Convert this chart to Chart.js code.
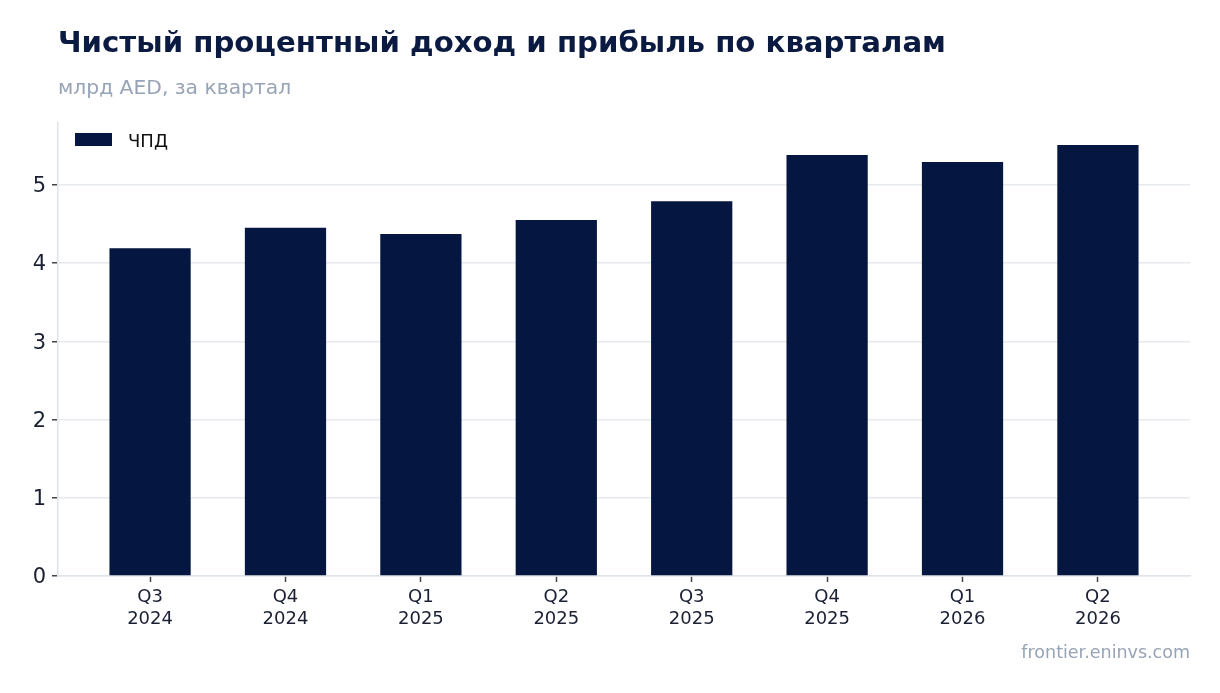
<!DOCTYPE html>
<html>
<head>
<meta charset="utf-8">
<script src="https://cdn.jsdelivr.net/npm/chart.js@4"></script>
<style>
  body { margin: 0; background: #fff; font-family: "DejaVu Sans", sans-serif; }
  #wrap { position: relative; width: 1220px; height: 693px; overflow: hidden; }
  #title { position: absolute; left: 58px; top: 25px; font-size: 29.2px; font-weight: bold; color: #0b1a40; white-space: nowrap; }
  #subtitle { position: absolute; left: 58px; top: 75px; font-size: 20.3px; color: #97a3b6; white-space: nowrap; }
  #source { position: absolute; right: 30px; top: 642px; font-size: 17.5px; color: #97a3b6; }
  #legend { position: absolute; left: 75px; top: 128px; font-size: 18px; color: #111; white-space: nowrap; }
  #legend span.sw { display: inline-block; width: 37px; height: 13px; background: #051641; vertical-align: middle; margin-right: 16px; position: relative; top: -1px; }
  #legend span { vertical-align: middle; }
  #box { position: absolute; left: 0; top: 0; width: 1220px; height: 693px; }
</style>
</head>
<body>
<div id="wrap">
  <div id="box"><canvas id="chart"></canvas></div>
  <div id="title">Чистый процентный доход и прибыль по кварталам</div>
  <div id="subtitle">млрд AED, за квартал</div>
  <div id="legend"><span class="sw"></span><span id="legendText"></span></div>
  <div id="source">frontier.eninvs.com</div>
</div>
<script>
// данные
const quarters = [["Q3", "2024"], ["Q4", "2024"], ["Q1", "2025"], ["Q2", "2025"],
                  ["Q3", "2025"], ["Q4", "2025"], ["Q1", "2026"], ["Q2", "2026"]];
const nii = [4.19, 4.45, 4.37, 4.55, 4.79, 5.38, 5.29, 5.51];
const seriesName = "ЧПД";
const yTicks = [0, 1, 2, 3, 4, 5];

document.getElementById('legendText').textContent = seriesName;

const ctx = document.getElementById('chart').getContext('2d');
new Chart(ctx, {
    type: 'bar',
    data: {
        datasets: [{
            label: seriesName,
            data: nii.map((v, i) => ({ x: i, y: v })),
            backgroundColor: '#051641',
            borderWidth: 0,
            barPercentage: 0.6,
            categoryPercentage: 1.0
        }]
    },
    options: {
        responsive: true,
        maintainAspectRatio: false,
        animation: false,
        layout: { padding: { top: 123, right: 30, bottom: 57, left: 0 } },
        plugins: {
            tooltip: { enabled: false },
            legend: { display: false }
        },
        scales: {
            x: {
                type: 'linear',
                offset: false,
                min: -0.68,
                max: quarters.length - 1 + 0.68,
                afterFit: function(scale) { scale.height = 60; },
                afterBuildTicks: function(scale) { scale.ticks = quarters.map((q, i) => ({ value: i })); },
                border: { color: '#dfe4eb', width: 1.5 },
                grid: { offset: false, drawOnChartArea: false, drawTicks: true, tickLength: 6, tickColor: '#444', tickWidth: 1.5 },
                ticks: {
                    color: '#1a1f33',
                    padding: 5,
                    maxRotation: 0,
                    autoSkip: false,
                    callback: function(value) { return quarters[value]; },
                    font: { family: 'DejaVu Sans', size: 18 }
                }
            },
            y: {
                min: 0,
                max: 5.79,
                afterFit: function(scale) { scale.width = 58; },
                afterBuildTicks: function(scale) { scale.ticks = yTicks.map(v => ({ value: v })); },
                border: { color: '#dfe4eb', width: 1.5 },
                grid: { color: '#e6e9ee', lineWidth: 1.5, tickLength: 6, tickColor: '#444', tickWidth: 1.5 },
                ticks: {
                    color: '#1a1f33',
                    padding: 6,
                    labelOffset: 2,
                    font: { family: 'DejaVu Sans', size: 21 }
                }
            }
        }
    }
});
</script>
</body>
</html>
